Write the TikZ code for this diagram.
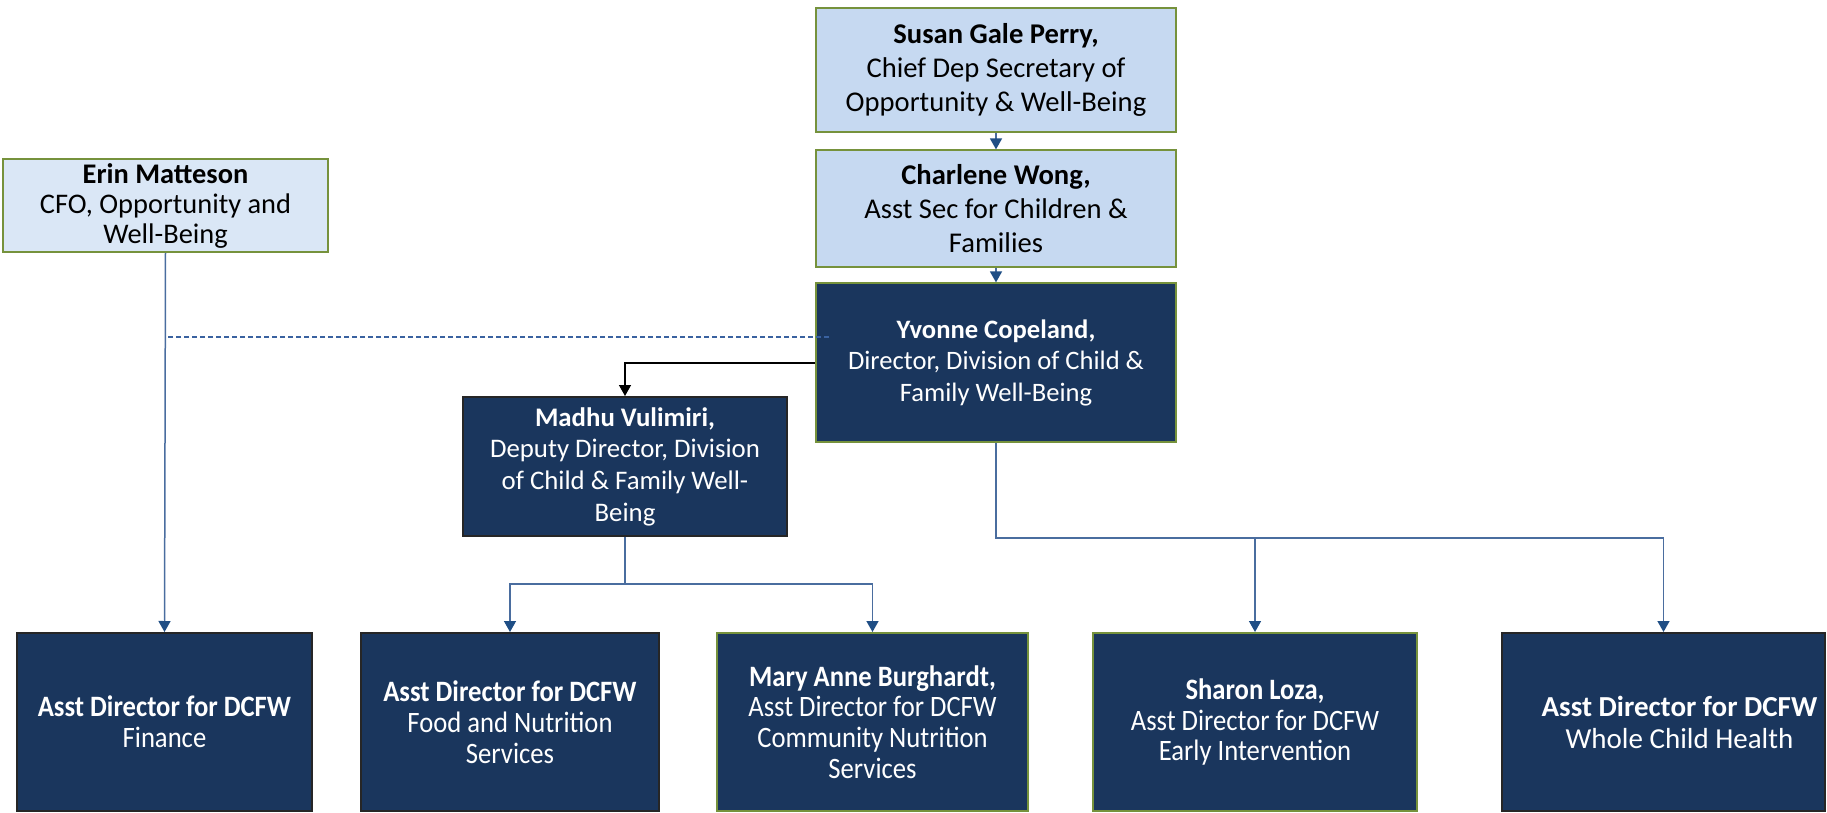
\documentclass[tikz,border=0pt]{standalone}
\usepackage{fontspec}
\setmainfont{Carlito}
\newfontfamily\narrowcal{Carlito}[FakeStretch=0.9]
\usetikzlibrary{arrows.meta, positioning}
\definecolor{paleblue}{HTML}{C6D9F1}
\definecolor{palecfo}{HTML}{DAE7F6}
\definecolor{navyfill}{HTML}{1A365D}
\definecolor{olivebd}{HTML}{76923C}
\definecolor{linkblue}{HTML}{4A6D9F}
\definecolor{tipblue}{HTML}{1F4E85}
\definecolor{dotblue}{HTML}{3A62A0}

\begin{document}
\begin{tikzpicture}[
  x=0.5pt, y=-0.5pt,
  big/.style={font=\fontsize{14.3}{17}\selectfont},
  mid/.style={font=\fontsize{13.3}{15.7}\selectfont},
  lite/.style={draw=olivebd, fill=paleblue, line width=1pt, align=center, inner sep=2pt},
  dark/.style={draw=black!85, fill=navyfill, text=white, line width=1pt, align=center, inner sep=2pt, mid},
  grn/.style={draw=olivebd},
  slim/.style={font=\narrowcal\fontsize{14.8}{15.4}\selectfont},
  wide/.style={font=\fontsize{14.5}{16}\selectfont},
  ln/.style={draw=linkblue, line width=0.75pt},
  ar/.style={ln, -{Triangle[length=5.5pt, width=6pt, color=tipblue]}},
  dsh/.style={draw=dotblue, line width=1pt, dash pattern=on 2.5pt off 1.5pt}
]
\useasboundingbox (0,0) rectangle (1827,813);

% top chain
\node[lite, big, minimum width=180pt, minimum height=62pt] (susan) at (996,70)
  {\textbf{Susan Gale Perry,}\\Chief Dep Secretary of\\Opportunity \& Well-Being};
\node[lite, big, minimum width=180pt, minimum height=58.5pt, below=8.2pt of susan] (charlene)
  {\textbf{Charlene Wong,}\\Asst Sec for Children \&\\Families};
\node[dark, grn, minimum width=180pt, minimum height=79.5pt, below=7pt of charlene] (yvonne)
  {\textbf{Yvonne Copeland,}\\Director, Division of Child \&\\Family Well-Being};

% side boxes
\node[lite, fill=palecfo, font=\fontsize{14.2}{15}\selectfont, minimum width=162.5pt, minimum height=46.5pt] (erin) at (165.5,205.5)
  {\textbf{Erin Matteson}\\CFO, Opportunity and\\Well-Being};
\node[dark, font=\fontsize{13.4}{15.8}\selectfont, minimum width=162pt, minimum height=69.5pt] (madhu) at (625,466.5)
  {\textbf{Madhu Vulimiri,}\\Deputy Director, Division\\of Child \& Family Well-\\Being};

% bottom row
\node[dark, slim, minimum width=147.5pt, minimum height=89pt] (finance) at (164.5,722)
  {\textbf{Asst Director for DCFW}\\Finance};
\node[dark, slim, minimum width=149pt, minimum height=89pt, right=23.5pt of finance] (food)
  {\textbf{Asst Director for DCFW}\\Food and Nutrition\\Services};
\node[dark, grn, slim, minimum width=155.5pt, minimum height=89pt, right=28pt of food] (mary)
  {\textbf{Mary Anne Burghardt,}\\Asst Director for DCFW\\Community Nutrition\\Services};
\node[dark, grn, slim, minimum width=162pt, minimum height=89pt, right=31.5pt of mary] (sharon)
  {\textbf{Sharon Loza,}\\Asst Director for DCFW\\Early Intervention};
\node[dark, wide, minimum width=161.5pt, minimum height=89pt, right=41.5pt of sharon] (whole)
  {\hspace*{16pt}\textbf{Asst Director for DCFW}\\\hspace*{16pt}Whole Child Health};

\coordinate (ybus) at (996,538);
\coordinate (mbus) at (625,584);
\coordinate (dotend) at ([xshift=7pt, yshift=12.75pt]yvonne.west);

\draw[ar] (susan) -- (charlene);
\draw[ar] (charlene) -- (yvonne);
\draw[-{Triangle[length=5.5pt, width=6pt]}, line width=0.75pt] (yvonne.west) -| (madhu.north);
\draw[ar] (erin.south) -- (finance.north);
\draw[dsh] (dotend) -- (dotend -| erin.south);
\draw[ar] (yvonne.south) -- (ybus) -| (whole.north);
\draw[ar] (ybus -| sharon.north) -- (sharon.north);
\draw[ln] (madhu.south) -- (mbus);
\draw[ar] (mbus) -| (food.north);
\draw[ar] (mbus) -| (mary.north);
\end{tikzpicture}
\end{document}
